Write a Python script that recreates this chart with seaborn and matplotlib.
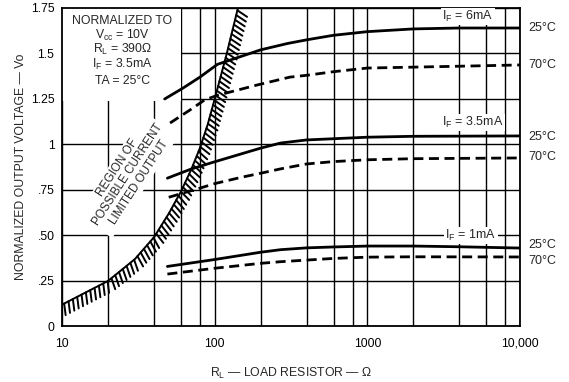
import numpy as np
import pandas as pd
import matplotlib
matplotlib.use("Agg")
import matplotlib.pyplot as plt
import seaborn as sns
from matplotlib import patheffects as pe
from matplotlib.patches import Rectangle
from matplotlib.ticker import FixedLocator, FixedFormatter, NullFormatter

# ---------------- data ----------------
r_6_25 = [47, 62, 80, 104, 200, 300, 400, 600, 1000, 2000, 4000, 10000]
v_6_25 = [1.25, 1.31, 1.37, 1.44, 1.52, 1.555, 1.575, 1.60, 1.62, 1.635, 1.64, 1.64]

r_6_70 = [51, 69, 86, 104, 190, 310, 400, 600, 1000, 2000, 4000, 10000]
v_6_70 = [1.118, 1.19, 1.245, 1.27, 1.327, 1.37, 1.38, 1.40, 1.42, 1.425, 1.43, 1.437]

r_35_25 = [49, 70, 100, 200, 270, 400, 1000, 2000, 10000]
v_35_25 = [0.815, 0.865, 0.905, 0.98, 1.008, 1.025, 1.04, 1.045, 1.047]

r_35_70 = [50, 80, 100, 150, 200, 270, 400, 600, 1000, 2000, 10000]
v_35_70 = [0.71, 0.76, 0.785, 0.82, 0.842, 0.866, 0.893, 0.906, 0.916, 0.922, 0.926]

r_1_25 = [49, 100, 200, 270, 400, 600, 1000, 2000, 4000, 10000]
v_1_25 = [0.33, 0.368, 0.408, 0.422, 0.432, 0.437, 0.442, 0.442, 0.438, 0.431]

r_1_70 = [49, 100, 200, 270, 600, 1000, 2000, 10000]
v_1_70 = [0.288, 0.32, 0.347, 0.356, 0.374, 0.381, 0.383, 0.382]

r_limit = [10, 20, 30, 40, 50, 60, 70, 80, 90, 100, 120, 142]
v_limit = [0.12, 0.25, 0.37, 0.49, 0.62, 0.74, 0.86, 0.98, 1.11, 1.25, 1.5, 1.75]

x_major = [10, 100, 1000, 10000]
x_major_labels = ["10", "100", "1000", "10,000"]
x_minor = [20, 40, 60, 80, 200, 400, 600, 800, 2000, 4000, 6000, 8000]
y_ticks = [0, 0.25, 0.5, 0.75, 1.0, 1.25, 1.5, 1.75]
y_labels = ["0", ".25", ".50", ".75", "1", "1.25", "1.5", "1.75"]

curve_labels = ["$I_F$ = 6mA", "$I_F$ = 3.5mA", "$I_F$ = 1mA"]
curve_label_pos = [(4560, 1.684), (4920, 1.102), (4770, 0.481)]
temp_labels = ["25°C", "70°C", "25°C", "70°C", "25°C", "70°C"]
temp_label_y = [1.64, 1.437, 1.04, 0.93, 0.448, 0.36]

box_lines = ["NORMALIZED TO", "$V_{cc}$ = 10V", "$R_L$ = 390Ω",
             "$I_F$ = 3.5mA", "TA = 25°C"]
box_line_y = [1.662, 1.580, 1.503, 1.421, 1.332]

# ---------------- style ----------------
sns.set_theme(style="white")
plt.rcParams["font.family"] = ["Liberation Sans", "DejaVu Sans"]
plt.rcParams["mathtext.fontset"] = "custom"
plt.rcParams["mathtext.rm"] = "Liberation Sans"
plt.rcParams["mathtext.it"] = "Liberation Sans"
plt.rcParams["mathtext.default"] = "regular"

fig = plt.figure(figsize=(5.69, 3.82), dpi=100)
ax = fig.add_axes([0.109, 0.1453, 0.805, 0.8338])
ax.set_xscale("log")
ax.set_xlim(10, 10000)
ax.set_ylim(0, 1.75)

ax.set_axisbelow(True)
ax.xaxis.set_major_locator(FixedLocator(x_major))
ax.xaxis.set_major_formatter(FixedFormatter(x_major_labels))
ax.xaxis.set_minor_locator(FixedLocator(x_minor))
ax.xaxis.set_minor_formatter(NullFormatter())
ax.yaxis.set_major_locator(FixedLocator(y_ticks))
ax.yaxis.set_major_formatter(FixedFormatter(y_labels))
ax.grid(True, which="both", color="black", lw=1.0)
ax.tick_params(axis="both", which="both", length=0, labelsize=8.7, colors="black")
ax.tick_params(axis="x", pad=8)
ax.tick_params(axis="y", length=3, width=1.0, direction="out", pad=2.5)
for s in ax.spines.values():
    s.set_color("black")
    s.set_linewidth(1.3)

# white panel behind the "normalized" note
ax.add_patch(Rectangle((0, 0.708), 0.259, 0.3, transform=ax.transAxes,
                       facecolor="white", edgecolor="none", zorder=1))

solid = dict(color="black", lw=2.0, zorder=3)
dashed = dict(color="black", lw=2.0, zorder=3, linestyle=(0, (3.6, 2.0)))

sns.lineplot(x=r_6_25, y=v_6_25, ax=ax, **solid)
sns.lineplot(x=r_6_70, y=v_6_70, ax=ax, **dashed)
sns.lineplot(x=r_35_25, y=v_35_25, ax=ax, **solid)
sns.lineplot(x=r_35_70, y=v_35_70, ax=ax, **dashed)
sns.lineplot(x=r_1_25, y=v_1_25, ax=ax, **solid)
sns.lineplot(x=r_1_70, y=v_1_70, ax=ax, **dashed)

sns.lineplot(x=r_limit, y=v_limit, ax=ax, color="black", lw=1.4, zorder=4)
ax.lines[-1].set_path_effects([pe.withTickedStroke(angle=-110, spacing=3.5, length=2.4,
                                                   linewidth=1.4)])

# texts
for t, (xr, yv) in zip(curve_labels, curve_label_pos):
    ax.text(xr, yv, t, ha="center", va="baseline", fontsize=9, zorder=5,
            bbox=dict(facecolor="white", edgecolor="none", pad=1.0))

for t, yv in zip(temp_labels, temp_label_y):
    ax.text(1.017, yv, t, transform=ax.get_yaxis_transform(), ha="left",
            va="center", fontsize=9, clip_on=False)

for t, yv in zip(box_lines, box_line_y):
    ax.text(24.9, yv, t, ha="center", va="baseline", fontsize=8.8, zorder=5)

ax.text(27.1, 0.832, "REGION OF\nPOSSIBLE CURRENT\nLIMITED OUTPUT", rotation=57,
        ha="center", va="center", fontsize=8.5, linespacing=1.1, zorder=5,
        rotation_mode="anchor",
        bbox=dict(facecolor="white", edgecolor="none", pad=1.5))

ax.set_xlabel("$R_L$ — LOAD RESISTOR — Ω", fontsize=8.8, labelpad=12)
ax.set_ylabel("NORMALIZED OUTPUT VOLTAGE — Vo", fontsize=8.8, labelpad=3)

fig.savefig("out.png", dpi=100, facecolor="white")
